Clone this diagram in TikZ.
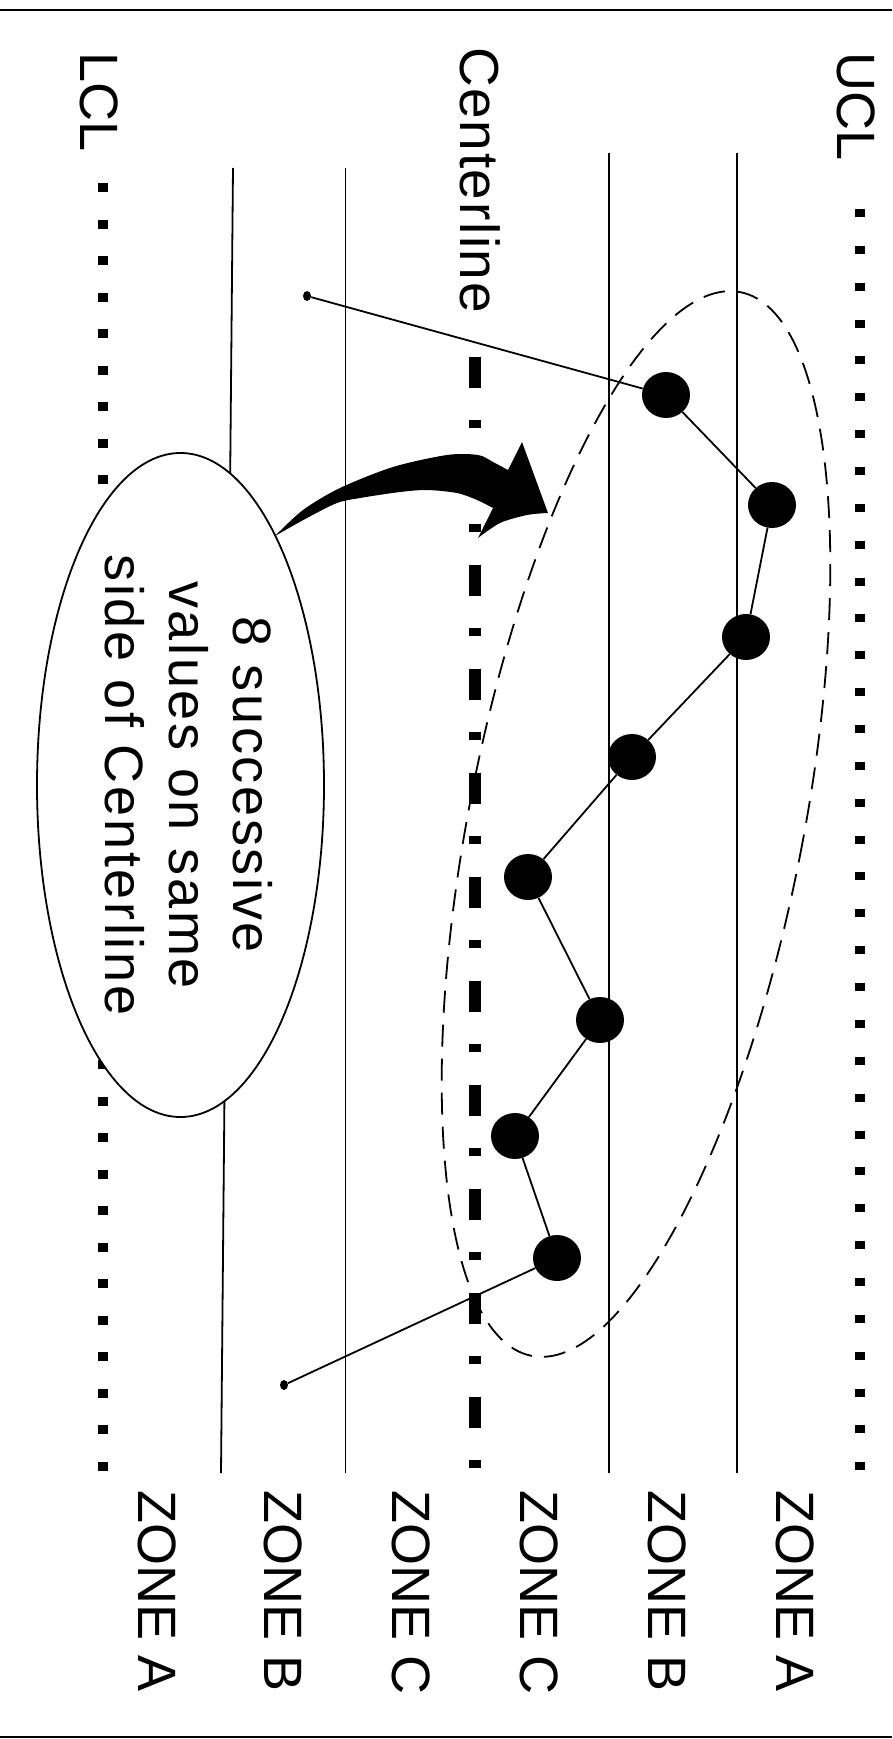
\documentclass[tikz,border=0pt]{standalone}
\usepackage{fontspec}
\setmainfont{Liberation Sans}
\usetikzlibrary{shapes.geometric}
\begin{document}
\begin{tikzpicture}[x=1pt,y=-1pt,
  thinline/.style={line width=1.8pt},
  limitdots/.style={line width=10pt},
  datapt/.style={ellipse, fill=black, minimum width=48pt, minimum height=46pt, inner sep=0pt},
  endpt/.style={ellipse, fill=black, minimum width=8pt, minimum height=10pt, inner sep=0pt},
  lab/.style={rotate=-90, anchor=base west, inner sep=0pt, font=\fontsize{54}{64}\selectfont},
  calloutbox/.style={ellipse, draw, fill=white, line width=1.8pt, minimum width=287pt, minimum height=664pt, inner sep=0pt}
]
\useasboundingbox (0,0) rectangle (892,1739);
% frame lines
\draw[line width=2pt] (0,10) -- (892,10);
\draw[line width=2pt] (0,1737) -- (892,1737);
% zone lines
\draw[thinline] (736.6,153) -- (736.6,1473);
\draw[thinline] (608.6,153) -- (608.6,1473);
\draw[thinline] (345.5,168) -- (345.5,1473);
\draw[thinline] (233,168) -- (221,1473);
% control limits
\draw[limitdots, dash pattern=on 8pt off 28.86pt] (860,209) -- (860,1472);
\draw[limitdots, dash pattern=on 9pt off 27.54pt] (102.5,183) -- (102.5,1472);
\draw[line width=12pt, dash pattern=on 31pt off 32pt on 8pt off 33pt] (475,356.7) -- (475,1468);
% labels
\node[lab] (ucl) at (837,52.7) {UCL};
\node[lab, font=\fontsize{55}{64}\selectfont\addfontfeature{LetterSpace=3}] (cl) at (460,47) {Centerline};
\node[lab] (lcl) at (80,52.7) {LCL};
\node[lab] (z1) at (138,1490.7) {ZONE A};
\node[lab] (z2) at (264.5,1490.7) {ZONE B};
\node[lab] (z3) at (392.5,1490.7) {ZONE C};
\node[lab] (z4) at (520.5,1490.7) {ZONE C};
\node[lab] (z5) at (648.5,1490.7) {ZONE B};
\node[lab] (z6) at (776.5,1490.7) {ZONE A};
% callout
\node[calloutbox] (callout) at (180.5,785) {};
\node[rotate=-90, align=center, inner sep=0pt, font=\fontsize{54}{64}\selectfont\addfontfeature{LetterSpace=5}] (callouttext) at (188.7,785) {8 successive\\values on same\\side of Centerline};
% dashed run ellipse
\draw[line width=1.8pt, dash pattern=on 22pt off 12pt, rotate around={-11.1:(636,824)}] (636,824) ellipse [x radius=167pt, y radius=542pt];
% data points
\node[endpt] (e0) at (307,296) {};
\node[datapt] (p1) at (666,395) {};
\node[datapt] (p2) at (772,505) {};
\node[datapt] (p3) at (746,637) {};
\node[datapt] (p4) at (632,757) {};
\node[datapt] (p5) at (528,877) {};
\node[datapt] (p6) at (600,1020) {};
\node[datapt] (p7) at (515,1136) {};
\node[datapt] (p8) at (557,1258) {};
\node[endpt] (e9) at (284,1385) {};
\draw[thinline] (e0) -- (p1) -- (p2) -- (p3) -- (p4) -- (p5) -- (p6) -- (p7) -- (p8) -- (e9);
% block arrow
\fill (275,536) -- plot[smooth] coordinates {(275,536) (303,510) (340,488) (393,467) (447,455) (478,455) (493,462) (508,470)}
  -- (522,442) -- (548,513)
  -- plot[smooth] coordinates {(548,513) (527,515) (500,523) (478,538)}
  -- (493,508)
  -- plot[smooth] coordinates {(493,508) (477,500) (457,493) (427,490) (400,492) (360,498) (337,503) (307,518) (275,536)} -- cycle;
\end{tikzpicture}
\end{document}
